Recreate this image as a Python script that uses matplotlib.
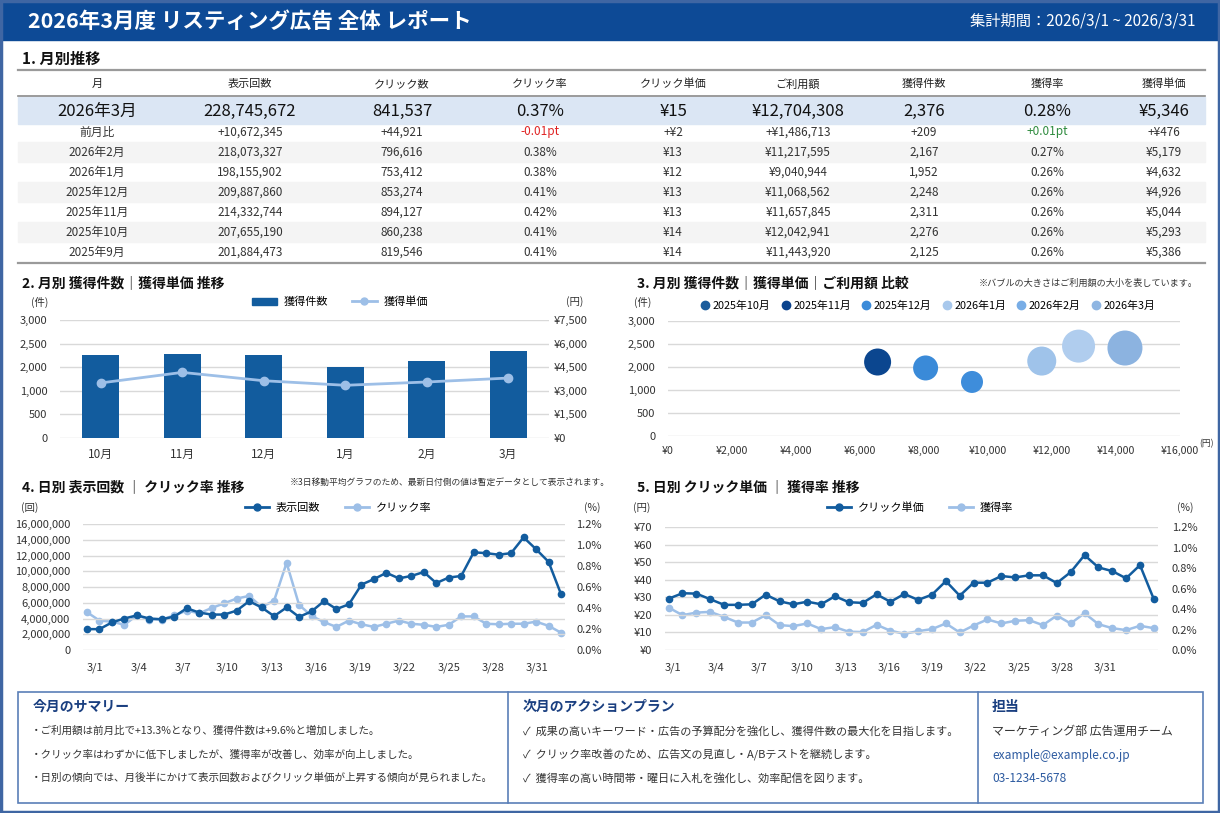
import numpy as np
import matplotlib
matplotlib.use("Agg")
import matplotlib.pyplot as plt
from matplotlib.patches import Rectangle
from matplotlib.lines import Line2D

plt.rcParams['font.family'] = ['Noto Sans CJK JP', 'DejaVu Sans']

W, H = 1220, 813
NAVY = "#0d4a96"
DARK = "#125c9e"
LIGHT = "#9dbfe7"
GRID = "#d9d9d9"
TXT = "#333333"

# ---- 1. 月別推移 (table) ----
header = ["月", "表示回数", "クリック数", "クリック率", "クリック単価", "ご利用額", "獲得件数", "獲得率", "獲得単価"]
months = ["2026年3月", "前月比", "2026年2月", "2026年1月", "2025年12月", "2025年11月", "2025年10月", "2025年9月"]
imp = ["228,745,672", "+10,672,345", "218,073,327", "198,155,902", "209,887,860", "214,332,744", "207,655,190", "201,884,473"]
clicks = ["841,537", "+44,921", "796,616", "753,412", "853,274", "894,127", "860,238", "819,546"]
ctr = ["0.37%", "-0.01pt", "0.38%", "0.38%", "0.41%", "0.42%", "0.41%", "0.41%"]
cpc = ["¥15", "+¥2", "¥13", "¥12", "¥13", "¥13", "¥14", "¥14"]
cost = ["¥12,704,308", "+¥1,486,713", "¥11,217,595", "¥9,040,944", "¥11,068,562", "¥11,657,845", "¥12,042,941", "¥11,443,920"]
cv = ["2,376", "+209", "2,167", "1,952", "2,248", "2,311", "2,276", "2,125"]
cvr = ["0.28%", "+0.01pt", "0.27%", "0.26%", "0.26%", "0.26%", "0.26%", "0.26%"]
cpa = ["¥5,346", "+¥476", "¥5,179", "¥4,632", "¥4,926", "¥5,044", "¥5,293", "¥5,386"]

# ---- 2. 月別 獲得件数 / 獲得単価 ----
m_short = ["10月", "11月", "12月", "1月", "2月", "3月"]
cv_bar = [2100, 2130, 2115, 1810, 1950, 2200]
cpa_line = [3500, 4170, 3640, 3350, 3560, 3810]
cv_ticklabels = ["0", "500", "1,000", "2,000", "2,500", "3,000"]

# ---- 3. バブル ----
bubble_months = ["2025年10月", "2025年11月", "2025年12月", "2026年1月", "2026年2月", "2026年3月"]
bubble_cpa = [6550, 8050, 9500, 11680, 12830, 14280]
bubble_cv = [1930, 1775, 1410, 1955, 2345, 2295]
bubble_diam = [27, 25, 22, 29, 33, 35]   # ご利用額の大小 (px)
legend_colors = ["#1a5c9c", "#0b438d", "#3b8bd9", "#a8c8ec", "#78ade6", "#8fb6e2"]
bubble_colors = ["#0b468f", "#3a8ad8", "#3e8ddb", "#9fc3ea", "#b0cdee", "#8cb3e0"]

# ---- 4. 日別 表示回数 / クリック率 ----
imp_daily = [2650000, 2650000, 3500000, 4000000, 4400000, 4000000, 3900000, 4250000, 5300000, 4750000,
             4500000, 4500000, 5000000, 6200000, 5400000, 4300000, 5400000, 4200000, 4900000, 6200000,
             5200000, 5800000, 8300000, 9000000, 9800000, 9100000, 9400000, 9900000, 8500000, 9200000,
             9400000, 12400000, 12300000, 12100000, 12300000, 14300000, 12800000, 11200000, 7100000]
ctr_daily = [0.36, 0.28, 0.27, 0.24, 0.33, 0.29, 0.29, 0.33, 0.375, 0.35,
             0.40, 0.445, 0.49, 0.515, 0.41, 0.47, 0.83, 0.43, 0.325, 0.265,
             0.22, 0.28, 0.245, 0.22, 0.25, 0.28, 0.25, 0.24, 0.22, 0.24,
             0.32, 0.32, 0.25, 0.245, 0.25, 0.25, 0.27, 0.23, 0.165]

# ---- 5. 日別 クリック単価 / 獲得率 ----
cpc_daily = [29.2, 32.3, 32.1, 28.9, 25.7, 25.7, 26.0, 31.5, 27.7, 26.0, 27.5, 26.0,
             30.6, 27.2, 26.8, 31.7, 27.4, 31.9, 28.5, 31.5, 39.2, 30.9, 38.3, 38.3,
             42.1, 41.3, 42.5, 42.5, 38.1, 44.3, 54.0, 47.0, 44.9, 40.8, 48.3, 28.9]
cvr_daily = [0.414, 0.34, 0.365, 0.372, 0.323, 0.268, 0.268, 0.34, 0.243, 0.233, 0.259, 0.204,
             0.223, 0.178, 0.175, 0.246, 0.188, 0.158, 0.184, 0.204, 0.259, 0.171, 0.239, 0.298,
             0.259, 0.285, 0.291, 0.243, 0.336, 0.259, 0.359, 0.252, 0.213, 0.194, 0.236, 0.213]
day_labels = ["3/1", "3/4", "3/7", "3/10", "3/13", "3/16", "3/19", "3/22", "3/25", "3/28", "3/31"]

summary = ["・ご利用額は前月比で+13.3%となり、獲得件数は+9.6%と増加しました。",
           "・クリック率はわずかに低下しましたが、獲得率が改善し、効率が向上しました。",
           "・日別の傾向では、月後半にかけて表示回数およびクリック単価が上昇する傾向が見られました。"]
actions = ["成果の高いキーワード・広告の予算配分を強化し、獲得件数の最大化を目指します。",
           "クリック率改善のため、広告文の見直し・A/Bテストを継続します。",
           "獲得率の高い時間帯・曜日に入札を強化し、効率配信を図ります。"]


fig = plt.figure(figsize=(W / 100, H / 100), dpi=100)
bg = fig.add_axes([0, 0, 1, 1])
bg.set_xlim(0, W)
bg.set_ylim(H, 0)
bg.axis("off")


def T(x, y, s, **kw):
    kw.setdefault("va", "center")
    kw.setdefault("color", TXT)
    bg.text(x, y, s, **kw)


def box(x0, y0, x1, y1):
    return fig.add_axes([x0 / W, 1 - y1 / H, (x1 - x0) / W, (y1 - y0) / H])


def style(ax):
    for s in ax.spines.values():
        s.set_visible(False)
    ax.tick_params(length=0, labelsize=8, colors=TXT)


# header band
bg.add_patch(Rectangle((0, 0), W, 40, color=NAVY, zorder=0))
T(28, 21, "2026年3月度 リスティング広告 全体 レポート", color="white", fontsize=15.5, fontweight="bold")
T(1195, 21, "集計期間：2026/3/1 ~ 2026/3/31", color="white", fontsize=11, ha="right")
bg.add_patch(Rectangle((1, 1), W - 2, H - 2, fill=False, ec="#3f66a3", lw=2.5, zorder=5))

# table
T(22, 59, "1. 月別推移", fontsize=11, fontweight="bold", color="#111111")
col_x = [97, 250, 402, 540, 673, 798, 924, 1047, 1164]
cols = [months, imp, clicks, ctr, cpc, cost, cv, cvr, cpa]
bg.add_patch(Rectangle((18, 97), 1187, 27, color="#dbe6f4", zorder=0))
for k in (2, 4, 6):
    bg.add_patch(Rectangle((18, 122 + 20 * (k - 1)), 1187, 20, color="#f4f4f4", zorder=0))
bg.plot([18, 1205], [70, 70], color="#9a9a9a", lw=1.6)
bg.plot([18, 1205], [96.5, 96.5], color="#8a8a8a", lw=1.2)
bg.plot([18, 1205], [263, 263], color="#9a9a9a", lw=1.6)
for cx, h in zip(col_x, header):
    T(cx, 84, h, fontsize=8, ha="center", color="#222222")
for cx, col in zip(col_x, cols):
    for r, val in enumerate(col):
        if r == 0:
            T(cx, 111, val, fontsize=12, ha="center", color="#111111")
        else:
            c = TXT
            if val.endswith("pt"):
                c = "#e02424" if val.startswith("-") else "#2e8b3e"
            T(cx, 132 + 20 * (r - 1), val, fontsize=8.5, ha="center", color=c)

# ---- chart 2 ----
T(22, 283, "2. 月別 獲得件数｜獲得単価 推移", fontsize=10, fontweight="bold", color="#111111")
T(40, 302, "(件)", fontsize=7.5, ha="center")
T(575, 302, "(円)", fontsize=7.5, ha="center")
ax2 = box(60, 320, 549, 438)
xm = np.arange(len(m_short))
ax2.bar(xm, cv_bar, width=0.45, color=DARK, zorder=3)
ax2.set_xlim(-0.5, len(m_short) - 0.5)
ax2.set_ylim(0, 3000)
ax2.set_yticks(np.linspace(0, 3000, 6))
ax2.set_yticklabels(cv_ticklabels)
ax2.set_xticks(xm)
ax2.set_xticklabels(m_short, fontsize=8.5)
ax2.grid(axis="y", color=GRID, lw=1)
ax2.set_axisbelow(True)
style(ax2)
ax2.tick_params(axis="y", pad=9)
ax2.tick_params(axis="x", pad=7, labelsize=8.5)
ax2r = ax2.twinx()
ax2r.plot(xm, cpa_line, color=LIGHT, lw=2, marker="o", ms=6, zorder=4)
ax2r.set_ylim(0, 7500)
ax2r.set_yticks(np.arange(0, 7501, 1500))
ax2r.set_yticklabels([f"¥{v:,}" for v in range(0, 7501, 1500)])
style(ax2r)
ax2r.tick_params(axis="y", pad=3)
fig.legend([Rectangle((0, 0), 1, 1, color=DARK), Line2D([], [], color=LIGHT, lw=2, marker="o", ms=5)],
           ["獲得件数", "獲得単価"], loc="center", bbox_to_anchor=(340 / W, 1 - 302 / H), ncol=2,
           frameon=False, fontsize=8, handlelength=2.2, columnspacing=2.2, handletextpad=0.6)

# ---- chart 3 ----
T(637, 283, "3. 月別 獲得件数｜獲得単価｜ご利用額 比較", fontsize=10, fontweight="bold", color="#111111")
T(1198, 283, "※バブルの大きさはご利用額の大小を表しています。", fontsize=6.6, ha="right")
T(643, 302, "(件)", fontsize=7.5, ha="center")
T(1199, 444, "(円)", fontsize=6.3, ha="left")
ax3 = box(668, 321, 1180, 436)
ax3.scatter(bubble_cpa, bubble_cv, s=[(d * 0.72) ** 2 for d in bubble_diam], c=bubble_colors,
            edgecolors="none", zorder=3)
ax3.set_xlim(0, 16000)
ax3.set_ylim(0, 3000)
ax3.set_yticks(np.linspace(0, 3000, 6))
ax3.set_yticklabels(cv_ticklabels)
ax3.set_xticks(np.arange(0, 16001, 2000))
ax3.set_xticklabels([f"¥{v:,}" for v in range(0, 16001, 2000)])
ax3.grid(axis="y", color=GRID, lw=1)
ax3.set_axisbelow(True)
style(ax3)
ax3.tick_params(axis="y", pad=9)
ax3.tick_params(axis="x", pad=7, labelsize=7.6)
fig.legend([Line2D([], [], ls="", marker="o", ms=6, color=c) for c in legend_colors], bubble_months,
           loc="center", bbox_to_anchor=(928 / W, 1 - 306 / H), ncol=6, frameon=False, fontsize=7.8,
           handlelength=0.8, handletextpad=0.3, columnspacing=1.0)

# ---- chart 4 ----
T(22, 487, "4. 日別 表示回数 ｜ クリック率 推移", fontsize=10, fontweight="bold", color="#111111")
T(610, 483, "※3日移動平均グラフのため、最新日付側の値は暫定データとして表示されます。", fontsize=6.3, ha="right")
T(30, 508, "(回)", fontsize=7.5, ha="center")
T(592, 508, "(%)", fontsize=7.5, ha="center")
ax4 = box(83, 524, 565, 650)
d4 = np.arange(len(imp_daily))
ax4.plot(d4, imp_daily, color=DARK, lw=1.8, marker="o", ms=4.5, zorder=4)
ax4.set_xlim(-0.32, len(imp_daily) - 1 + 0.32)
ax4.set_ylim(0, 16000000)
ax4.set_yticks(np.arange(0, 16000001, 2000000))
ax4.set_yticklabels([f"{v:,}" for v in range(0, 16000001, 2000000)])
ax4.set_xticks(np.linspace(0.6, 36.1, len(day_labels)))
ax4.set_xticklabels(day_labels)
ax4.grid(axis="y", color=GRID, lw=1)
ax4.set_axisbelow(True)
style(ax4)
ax4.tick_params(axis="y", pad=9)
ax4.tick_params(axis="x", pad=9)
ax4r = ax4.twinx()
ax4r.plot(d4, ctr_daily, color=LIGHT, lw=1.8, marker="o", ms=4.5, zorder=3)
ax4r.set_ylim(0, 1.2)
ax4r.set_yticks(np.arange(0, 1.21, 0.2))
ax4r.set_yticklabels([f"{v:.1f}%" for v in np.arange(0, 1.21, 0.2)])
style(ax4r)
ax4r.tick_params(axis="y", pad=8)
ax4.set_zorder(ax4r.get_zorder() + 1)
ax4.patch.set_visible(False)
fig.legend([Line2D([], [], color=DARK, lw=2, marker="o", ms=5), Line2D([], [], color=LIGHT, lw=2, marker="o", ms=5)],
           ["表示回数", "クリック率"], loc="center", bbox_to_anchor=(338 / W, 1 - 508 / H), ncol=2,
           frameon=False, fontsize=8, handlelength=2.2, columnspacing=2.2, handletextpad=0.6)

# ---- chart 5 ----
T(637, 487, "5. 日別 クリック単価 ｜ 獲得率 推移", fontsize=10, fontweight="bold", color="#111111")
T(642, 508, "(円)", fontsize=7.5, ha="center")
T(1185, 508, "(%)", fontsize=7.5, ha="center")
ax5 = box(665, 527, 1158, 650)
d5 = np.arange(len(cpc_daily))
ax5.plot(d5, cpc_daily, color=DARK, lw=1.8, marker="o", ms=4.5, zorder=4)
ax5.set_xlim(-0.26, len(cpc_daily) - 1 + 0.3)
ax5.set_ylim(0, 70)
ax5.set_yticks(np.arange(0, 71, 10))
ax5.set_yticklabels([f"¥{v}" for v in range(0, 71, 10)])
ax5.set_xticks(np.linspace(0.3, 31.5, len(day_labels)))
ax5.set_xticklabels(day_labels)
ax5.grid(axis="y", color=GRID, lw=1)
ax5.set_axisbelow(True)
style(ax5)
ax5.tick_params(axis="y", pad=9)
ax5.tick_params(axis="x", pad=9)
ax5r = ax5.twinx()
ax5r.plot(d5, cvr_daily, color=LIGHT, lw=1.8, marker="o", ms=4.5, zorder=3)
ax5r.set_ylim(0, 1.2)
ax5r.set_yticks(np.arange(0, 1.21, 0.2))
ax5r.set_yticklabels([f"{v:.1f}%" for v in np.arange(0, 1.21, 0.2)])
style(ax5r)
ax5r.tick_params(axis="y", pad=10)
ax5.set_zorder(ax5r.get_zorder() + 1)
ax5.patch.set_visible(False)
fig.legend([Line2D([], [], color=DARK, lw=2, marker="o", ms=5), Line2D([], [], color=LIGHT, lw=2, marker="o", ms=5)],
           ["クリック単価", "獲得率"], loc="center", bbox_to_anchor=(920 / W, 1 - 508 / H), ncol=2,
           frameon=False, fontsize=8, handlelength=2.2, columnspacing=2.2, handletextpad=0.6)

# ---- bottom boxes ----
bg.add_patch(Rectangle((18, 692), 1185, 111, fill=False, ec="#5a7fb8", lw=1.2))
bg.plot([508, 508], [692, 803], color="#5a7fb8", lw=1.2)
bg.plot([978, 978], [692, 803], color="#5a7fb8", lw=1.2)
TITLE_C = "#1a3f80"
T(33, 707, "今月のサマリー", fontsize=10, fontweight="bold", color=TITLE_C)
for i, s in enumerate(summary):
    T(31, 731 + 23.5 * i, s, fontsize=7.6)
T(523, 707, "次月のアクションプラン", fontsize=10, fontweight="bold", color=TITLE_C)
for i, s in enumerate(actions):
    T(523, 731 + 23.5 * i, "✓  " + s, fontsize=8)
T(992, 707, "担当", fontsize=10, fontweight="bold", color=TITLE_C)
T(992, 731, "マーケティング部 広告運用チーム", fontsize=8.6)
T(992, 755, "example@example.co.jp", fontsize=8.6, color="#2c5aa0")
T(992, 778, "03-1234-5678", fontsize=8.6, color="#2c5aa0")

fig.savefig("out.png", dpi=100)
